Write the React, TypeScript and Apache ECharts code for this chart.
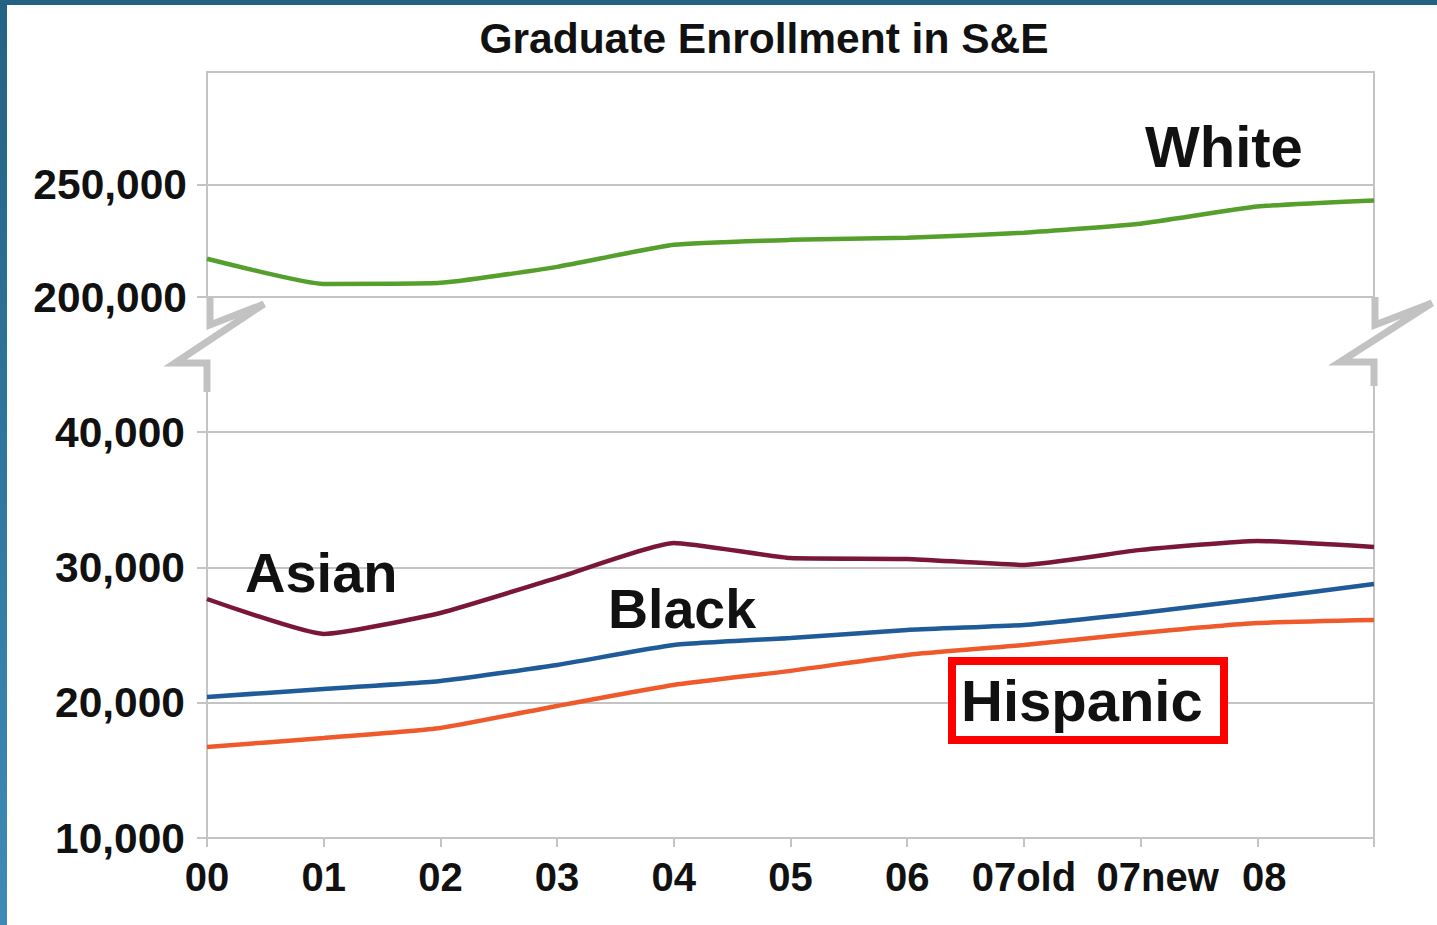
import React, { useEffect, useRef } from 'react';
import * as echarts from 'echarts';

const years = ['00', '01', '02', '03', '04', '05', '06', '07old', '07new', '08', ''];
const white = [217000, 205800, 206300, 213400, 223200, 225400, 226300, 228600, 232600, 240200, 242900];
const asian = [27660, 25080, 26630, 29220, 31800, 30690, 30620, 30180, 31290, 31950, 31510];
const black = [20420, 21010, 21600, 22790, 24260, 24780, 25370, 25740, 26630, 27660, 28770];
const hispanic = [16730, 17390, 18130, 19760, 21310, 22350, 23530, 24260, 25150, 25890, 26110];

const topMin = 200000, topMax = 300000, topStep = 50000;
const botMin = 10000, botMax = 40000, botStep = 10000;

const titleText = 'Graduate Enrollment in S&E';
const seriesNames = ['White', 'Asian', 'Black', 'Hispanic'];
const seriesColors = ['#55a02c', '#7a1636', '#1f5b98', '#ef5a2c'];

export default function App() {
  const ref = useRef<HTMLDivElement>(null);
  useEffect(() => {
    const chart = echarts.init(ref.current!, null, { renderer: 'svg' });
    const gray = '#c4c4c4';
    const font = 'Liberation Sans, Arial, sans-serif';
    const lab = { fontFamily: font, fontWeight: 'bold' as const, fontSize: 40, color: '#111' };
    const ylab = { ...lab, fontSize: 42.5 };
    const fmt = (v: number) => v.toLocaleString('en-US');
    const bigText = (text: string, x: number, y: number, size: number) => ({
      type: 'text', x, y, z: 50,
      style: { text, fontFamily: font, fontWeight: 'bold', fontSize: size, fill: '#111', textAlign: 'left', textVerticalAlign: 'middle' },
    });
    const bolt = (pts: number[][]) => ({
      type: 'polyline', z: 40, shape: { points: pts },
      style: { stroke: '#c2c2c2', lineWidth: 7, fill: null, lineJoin: 'miter' },
    });
    chart.setOption({
      animation: false,
      backgroundColor: '#ffffff',
      grid: [
        { left: 207, right: 63, top: 72, height: 225, show: true, borderColor: gray, borderWidth: 2 },
        { left: 207, right: 63, top: 432, height: 406, show: true, borderColor: gray, borderWidth: 2 },
      ],
      xAxis: [
        { gridIndex: 0, type: 'category', data: years, boundaryGap: false, show: false },
        {
          gridIndex: 1, type: 'category', data: years, boundaryGap: false,
          axisLine: { lineStyle: { color: gray, width: 2 } },
          axisTick: { show: true, interval: 0, length: 9, lineStyle: { color: gray, width: 2 } },
          axisLabel: {
            interval: 0, margin: 19, ...lab,
            formatter: (v: string) => (v === '07new' ? `{s|${v}}` : v === '08' ? `{t|${v}}` : v),
            rich: { s: { ...lab, padding: [0, 0, 0, 34] }, t: { ...lab, padding: [0, 0, 0, 14] } },
          },
        },
      ],
      yAxis: [
        {
          gridIndex: 0, type: 'value', min: topMin, max: topMax, interval: topStep,
          axisLine: { show: true, lineStyle: { color: gray, width: 2 } },
          axisTick: { show: true, length: 10, lineStyle: { color: gray, width: 2 } },
          splitLine: { lineStyle: { color: gray, width: 2 } },
          axisLabel: { showMaxLabel: false, margin: 20, formatter: fmt, ...ylab },
        },
        {
          gridIndex: 1, type: 'value', min: botMin, max: botMax, interval: botStep,
          axisLine: { show: true, lineStyle: { color: gray, width: 2 } },
          axisTick: { show: true, length: 10, lineStyle: { color: gray, width: 2 } },
          splitLine: { lineStyle: { color: gray, width: 2 } },
          axisLabel: { margin: 22, formatter: fmt, ...ylab },
        },
      ],
      series: [
        { name: seriesNames[0], type: 'line', xAxisIndex: 0, yAxisIndex: 0, data: white },
        { name: seriesNames[1], type: 'line', xAxisIndex: 1, yAxisIndex: 1, data: asian },
        { name: seriesNames[2], type: 'line', xAxisIndex: 1, yAxisIndex: 1, data: black },
        { name: seriesNames[3], type: 'line', xAxisIndex: 1, yAxisIndex: 1, data: hispanic },
      ].map((s, i) => ({
        ...s, symbol: 'none', smooth: 0.15, z: 10,
        lineStyle: { color: seriesColors[i], width: 4.5 }, itemStyle: { color: seriesColors[i] },
      })),
      graphic: [
        { type: 'rect', shape: { x: 0, y: 0, width: 1437, height: 5 }, style: { fill: '#236282' }, z: 60 },
        {
          type: 'rect', shape: { x: 0, y: 0, width: 7, height: 925 }, z: 60,
          style: {
            fill: new echarts.graphic.LinearGradient(0, 0, 0, 1, [
              { offset: 0, color: '#236282' },
              { offset: 1, color: '#3d8bb8' },
            ]),
          },
        },
        {
          type: 'text', x: 764, y: 38, z: 50,
          style: { text: titleText, fontFamily: font, fontWeight: 'bold', fontSize: 42.5, fill: '#111', textAlign: 'center', textVerticalAlign: 'middle' },
        },
        bolt([[210, 297], [210, 325], [264, 304], [175, 363], [207, 363], [207, 392]]),
        bolt([[1375, 297], [1375, 325], [1432, 303], [1340, 362], [1374, 362], [1374, 386]]),
        { type: 'line', z: 40, shape: { x1: 207, y1: 390, x2: 207, y2: 432 }, style: { stroke: gray, lineWidth: 2 } },
        { type: 'line', z: 40, shape: { x1: 1374, y1: 384, x2: 1374, y2: 432 }, style: { stroke: gray, lineWidth: 2 } },
        bigText(seriesNames[0], 1145, 146, 58),
        bigText(seriesNames[1], 245, 572, 56),
        bigText(seriesNames[2], 608, 609, 55.5),
        bigText(seriesNames[3], 961, 700, 58),
        {
          type: 'rect', z: 45, shape: { x: 952, y: 661, width: 272, height: 79 },
          style: { fill: '#ffffff', stroke: '#ff0000', lineWidth: 8 },
        },
      ],
    });
    return () => chart.dispose();
  }, []);
  return <div ref={ref} style={{ position: 'fixed', left: 0, top: 0, width: 1437, height: 925 }} />;
}
